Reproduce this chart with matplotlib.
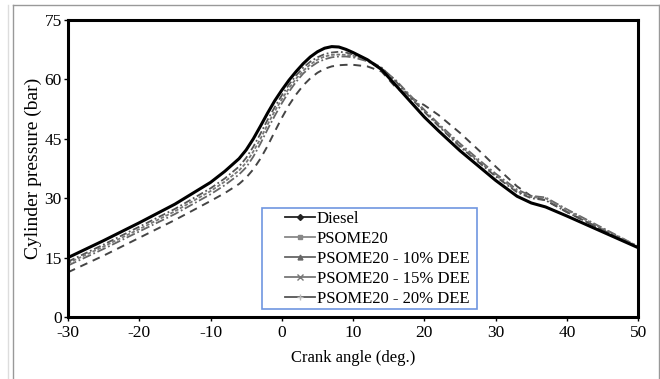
import matplotlib
matplotlib.use("Agg")
import matplotlib.pyplot as plt
from matplotlib.lines import Line2D
from matplotlib.patches import Rectangle

plt.rcParams['font.family'] = ['Liberation Serif', 'DejaVu Serif']
plt.rcParams['axes.unicode_minus'] = False

# crank angle (deg) and cylinder pressure (bar)
angle = [-30, -25, -20, -15, -10, -8, -6, -5, -4, -3, -2, -1, 0, 1, 2, 3, 4, 5, 6, 7, 8, 9,
         10, 12, 14, 16, 18, 20, 22, 25, 28, 30, 33, 35, 37, 40, 45, 50]

diesel = [15.0, 19.3, 23.8, 28.5, 34.0, 36.8, 40.0, 42.2, 45.0, 48.2, 51.5, 54.6, 57.3, 59.8,
          62.0, 64.0, 65.7, 67.0, 67.9, 68.3, 68.2, 67.6, 66.8, 65.0, 62.5, 58.5, 54.5, 50.5,
          47.0, 42.0, 37.5, 34.5, 30.5, 28.8, 27.8, 25.5, 21.5, 17.5]
psome20 = [14.0, 18.3, 22.8, 27.3, 32.5, 35.0, 38.0, 40.2, 43.0, 46.3, 49.8, 53.0, 56.0, 58.7,
           61.0, 63.0, 64.5, 65.6, 66.4, 66.8, 67.0, 66.8, 66.3, 65.0, 63.0, 59.5, 55.5, 51.8,
           48.2, 43.0, 38.5, 35.5, 31.5, 30.0, 29.5, 26.5, 22.0, 17.6]
dee10 = [13.6, 17.8, 22.2, 26.7, 31.8, 34.2, 37.0, 39.0, 41.8, 45.0, 48.6, 52.0, 55.0, 57.8,
         60.2, 62.2, 63.8, 65.0, 65.8, 66.2, 66.3, 66.2, 66.0, 64.8, 62.8, 59.5, 55.8, 52.0,
         48.5, 43.3, 38.8, 35.8, 31.8, 30.3, 30.0, 27.0, 22.3, 17.8]
dee15 = [13.0, 17.2, 21.6, 26.0, 31.0, 33.3, 36.0, 37.8, 40.5, 43.8, 47.4, 50.8, 54.0, 56.9,
         59.4, 61.5, 63.1, 64.3, 65.1, 65.6, 65.8, 65.8, 65.6, 64.6, 62.8, 59.8, 56.0, 52.3,
         48.8, 43.8, 39.2, 36.2, 32.2, 30.6, 30.2, 27.2, 22.5, 17.8]
dee20 = [11.3, 15.5, 20.0, 24.5, 29.3, 31.3, 33.6, 35.2, 37.3, 40.0, 43.2, 46.8, 50.3, 53.5,
         56.2, 58.5, 60.3, 61.7, 62.7, 63.3, 63.6, 63.7, 63.7, 63.3, 62.0, 58.0, 55.5, 53.5,
         51.0, 46.5, 41.5, 38.0, 33.0, 30.5, 29.5, 26.5, 22.0, 17.5]

labels = ['Diesel', 'PSOME20', 'PSOME20 - 10% DEE', 'PSOME20 - 15% DEE', 'PSOME20 - 20% DEE']

fig = plt.figure(figsize=(6.6, 3.79), dpi=100)
ax = fig.add_axes([0.103, 0.1636, 0.864, 0.7834])

ax.plot(angle, dee20, color='#444444', lw=1.4, ls=(0, (4, 3)))
ax.plot(angle, dee15, color='#666666', lw=1.3, ls=(0, (5, 1.5, 1, 1.5)))
ax.plot(angle, dee10, color='#777777', lw=1.3, ls=(0, (2, 1)))
ax.plot(angle, psome20, color='#555555', lw=1.3, ls=(0, (4, 1.5, 1, 1.5)))
ax.plot(angle, diesel, color='black', lw=2.2)

ax.set_xlim(-30, 50)
ax.set_ylim(0, 75)
ax.set_xticks(range(-30, 51, 10))
ax.set_yticks(range(0, 76, 15))
ax.tick_params(direction='out', length=3, width=1, labelsize=12.5)
ax.tick_params(axis='x', pad=3)
ax.tick_params(axis='y', pad=1.5)
for s in ax.spines.values():
    s.set_linewidth(2.2)
ax.set_xlabel('Crank angle (deg.)', fontsize=12, labelpad=6)
ax.set_ylabel('Cylinder pressure (bar)', fontsize=14, labelpad=2)

# legend with markers and a separate blue frame
handles = [
    Line2D([], [], color='#222222', lw=1.3, marker='D', ms=3),
    Line2D([], [], color='#888888', lw=1.3, marker='s', ms=3.5),
    Line2D([], [], color='#666666', lw=1.3, marker='^', ms=3.5),
    Line2D([], [], color='#777777', lw=1.3, marker='x', ms=4),
    Line2D([], [], color='#555555', lw=1.3, marker='+', ms=5, mec='#bbbbbb'),
]
ax.legend(handles, labels, loc='lower left', bbox_to_anchor=(0.381, 0.033), frameon=False,
          fontsize=12, numpoints=1, handlelength=1.8, handletextpad=0.1,
          labelspacing=0.24, borderpad=0, borderaxespad=0)
ax.add_patch(Rectangle((0.340, 0.027), 0.378, 0.340, transform=ax.transAxes, fill=False,
                       edgecolor='#6f96e0', lw=1.2, zorder=5))

# outer gray frame of the original figure
fig.add_artist(Line2D([13 / 660, 13 / 660], [0, 1 - 5 / 379], color='#999999', lw=1))
fig.add_artist(Line2D([8 / 660, 8 / 660], [0, 1 - 5 / 379], color='#dddddd', lw=1))
fig.add_artist(Line2D([13 / 660, 659 / 660], [1 - 5 / 379, 1 - 5 / 379], color='#999999', lw=1))
fig.add_artist(Line2D([659 / 660, 659 / 660], [0, 1 - 5 / 379], color='#999999', lw=1))

fig.savefig('out.png', dpi=100)
